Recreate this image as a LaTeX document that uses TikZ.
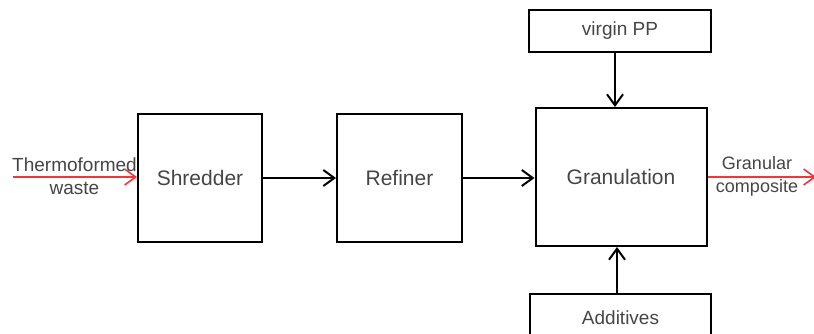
\documentclass[tikz,border=0pt]{standalone}
\usepackage{fontspec}
\setmainfont{Liberation Sans}
\usetikzlibrary{arrows.meta}
\definecolor{txt}{HTML}{454545}
\definecolor{flow}{HTML}{F2353B}
\tikzset{
  box/.style={draw=black, line width=2pt, rectangle, inner sep=0pt, text=txt,
    font=\fontsize{21}{25}\selectfont},
  label/.style={inner sep=0pt, align=center, text=txt,
    font=\fontsize{19}{23}\selectfont},
  feed/.style={line width=2pt, -{Straight Barb[length=11pt,width=16pt]}},
  stream/.style={feed, draw=flow, line width=1.6pt},
}
\begin{document}
\begin{tikzpicture}[x=1pt,y=-1pt]
  \useasboundingbox (0,0) rectangle (814,334);

  % process units
  \node[box, minimum width=124pt, minimum height=128pt] (shred) at (200,178) {Shredder};
  \node[box, minimum width=125pt, minimum height=128pt] (refin) at (399.5,178) {Refiner};
  \node[box, minimum width=171pt, minimum height=138pt] (gran) at (621,177) {Granulation};
  \node[box, minimum width=182pt, minimum height=42pt, font=\fontsize{19}{23}\selectfont] (virgin) at (620,31) {virgin PP};
  \node[box, minimum width=181pt, minimum height=48pt, font=\fontsize{19}{23}\selectfont] (addit) at (620.5,318) {Additives};

  % stream labels
  \node[label] (inlab) at (74.5,176.5) {Thermoformed\\waste};
  \node[label, font=\fontsize{18}{23}\selectfont] (outlab) at (757,176.5) {Granular\\composite};

  % material flow
  \draw[feed] (shred.east) -- (refin.west);
  \draw[feed] (refin.east) -- (refin.east -| gran.west);
  \draw[feed] ([xshift=-5pt]virgin.south) -- ([xshift=-6pt]gran.north);
  \draw[feed] ([xshift=-3.5pt]addit.north) -- ([xshift=-4pt]gran.south);

  % inlet and outlet streams
  \coordinate (src) at (13,177);
  \coordinate (sink) at (816,177);
  \draw[stream] (src) -- (src -| shred.west);
  \draw[stream] (gran.east |- sink) -- (sink);
\end{tikzpicture}
\end{document}
